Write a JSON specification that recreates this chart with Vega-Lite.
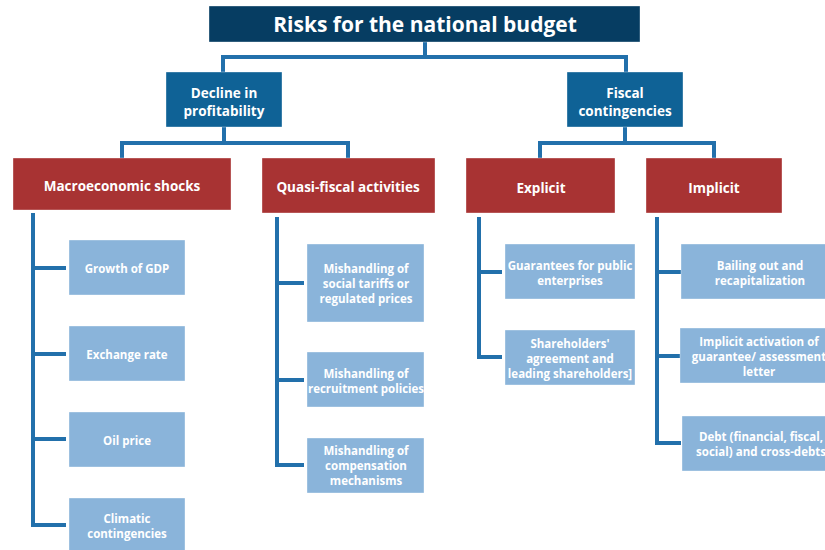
{
  "$schema": "https://vega.github.io/schema/vega-lite/v6.json",
  "width": 825,
  "height": 550,
  "padding": 0,
  "autosize": {"type": "none"},
  "background": "white",
  "config": {"view": {"stroke": null}},
  "datasets": {
    "boxes": [
      {"id": "title", "level": "top", "x1": 209, "x2": 640, "y1": 6, "y2": 42},
      {"id": "decline", "level": "l2", "x1": 166, "x2": 282, "y1": 72, "y2": 127},
      {"id": "fiscal", "level": "l2", "x1": 567, "x2": 683, "y1": 72, "y2": 127},
      {"id": "macro", "level": "l3", "x1": 13, "x2": 231, "y1": 158, "y2": 210},
      {"id": "quasi", "level": "l3", "x1": 262, "x2": 435, "y1": 158, "y2": 213},
      {"id": "explicit", "level": "l3", "x1": 466, "x2": 615, "y1": 158, "y2": 213},
      {"id": "implicit", "level": "l3", "x1": 646, "x2": 782, "y1": 158, "y2": 213},
      {"id": "gdp", "level": "leaf", "x1": 69, "x2": 185, "y1": 240, "y2": 295},
      {"id": "fx", "level": "leaf", "x1": 69, "x2": 185, "y1": 326, "y2": 381},
      {"id": "oil", "level": "leaf", "x1": 69, "x2": 185, "y1": 412, "y2": 467},
      {"id": "climatic", "level": "leaf", "x1": 69, "x2": 185, "y1": 498, "y2": 556},
      {"id": "tariffs", "level": "leaf", "x1": 307, "x2": 424, "y1": 244, "y2": 322},
      {"id": "recruit", "level": "leaf", "x1": 307, "x2": 424, "y1": 352, "y2": 407},
      {"id": "comp", "level": "leaf", "x1": 307, "x2": 424, "y1": 438, "y2": 493},
      {"id": "guar", "level": "leaf", "x1": 505, "x2": 635, "y1": 244, "y2": 299},
      {"id": "share", "level": "leaf", "x1": 505, "x2": 635, "y1": 330, "y2": 385},
      {"id": "bail", "level": "leaf", "x1": 681, "x2": 840, "y1": 244, "y2": 299},
      {"id": "activ", "level": "leaf", "x1": 680, "x2": 840, "y1": 328, "y2": 383},
      {"id": "debt", "level": "leaf", "x1": 682, "x2": 840, "y1": 416, "y2": 471}
    ],
    "labels": [
      {"level": "top", "x": 425, "y": 24, "text": "Risks for the national budget"},
      {"level": "l2", "x": 224, "y": 92, "text": "Decline in\nprofitability"},
      {"level": "l2", "x": 625, "y": 92, "text": "Fiscal\ncontingencies"},
      {"level": "l3", "x": 122, "y": 185, "text": "Macroeconomic shocks"},
      {"level": "l3", "x": 348, "y": 186, "text": "Quasi-fiscal activities"},
      {"level": "l3", "x": 541, "y": 187, "text": "Explicit"},
      {"level": "l3", "x": 714, "y": 187, "text": "Implicit"},
      {"level": "leaf", "x": 127, "y": 268, "text": "Growth of GDP"},
      {"level": "leaf", "x": 127, "y": 354, "text": "Exchange rate"},
      {"level": "leaf", "x": 127, "y": 440, "text": "Oil price"},
      {"level": "leaf", "x": 127, "y": 518, "text": "Climatic\ncontingencies"},
      {"level": "leaf", "x": 366, "y": 268, "text": "Mishandling of\nsocial tariffs or\nregulated prices"},
      {"level": "leaf", "x": 366, "y": 373, "text": "Mishandling of\nrecruitment policies"},
      {"level": "leaf", "x": 366, "y": 450, "text": "Mishandling of\ncompensation\nmechanisms"},
      {"level": "leaf", "x": 570, "y": 265, "text": "Guarantees for public\nenterprises"},
      {"level": "leaf", "x": 570, "y": 343, "text": "Shareholders'\nagreement and\nleading shareholders]"},
      {"level": "leaf", "x": 760, "y": 265, "text": "Bailing out and\nrecapitalization"},
      {"level": "leaf", "x": 759, "y": 341, "text": "Implicit activation of\nguarantee/ assessment\nletter"},
      {"level": "leaf", "x": 761, "y": 436, "text": "Debt (financial, fiscal,\nsocial) and cross-debts"}
    ],
    "links": [
      {"x1": 425, "y1": 42, "x2": 425, "y2": 57},
      {"x1": 223, "y1": 57, "x2": 626, "y2": 57},
      {"x1": 223, "y1": 57, "x2": 223, "y2": 72},
      {"x1": 626, "y1": 57, "x2": 626, "y2": 72},
      {"x1": 224, "y1": 127, "x2": 224, "y2": 143},
      {"x1": 122, "y1": 143, "x2": 348, "y2": 143},
      {"x1": 122, "y1": 143, "x2": 122, "y2": 158},
      {"x1": 348, "y1": 143, "x2": 348, "y2": 158},
      {"x1": 625, "y1": 127, "x2": 625, "y2": 143},
      {"x1": 540, "y1": 143, "x2": 714, "y2": 143},
      {"x1": 540, "y1": 143, "x2": 540, "y2": 158},
      {"x1": 714, "y1": 143, "x2": 714, "y2": 158},
      {"x1": 33, "y1": 215, "x2": 33, "y2": 525},
      {"x1": 33, "y1": 268, "x2": 64, "y2": 268},
      {"x1": 33, "y1": 354, "x2": 64, "y2": 354},
      {"x1": 33, "y1": 439, "x2": 64, "y2": 439},
      {"x1": 33, "y1": 525, "x2": 64, "y2": 525},
      {"x1": 277, "y1": 219, "x2": 277, "y2": 465},
      {"x1": 277, "y1": 283, "x2": 302, "y2": 283},
      {"x1": 277, "y1": 380, "x2": 302, "y2": 380},
      {"x1": 277, "y1": 465, "x2": 302, "y2": 465},
      {"x1": 479, "y1": 219, "x2": 479, "y2": 357},
      {"x1": 479, "y1": 272, "x2": 500, "y2": 272},
      {"x1": 479, "y1": 357, "x2": 500, "y2": 357},
      {"x1": 657, "y1": 219, "x2": 657, "y2": 443},
      {"x1": 657, "y1": 272, "x2": 679, "y2": 272},
      {"x1": 657, "y1": 356, "x2": 679, "y2": 356},
      {"x1": 657, "y1": 443, "x2": 679, "y2": 443}
    ]
  },
  "layer": [
    {
      "data": {"name": "links"},
      "mark": {"type": "rule", "color": "#2270ab", "strokeWidth": 4, "strokeCap": "square"},
      "encoding": {
        "x": {"field": "x1", "type": "quantitative", "scale": {"domain": [0, 825]}, "axis": null},
        "x2": {"field": "x2"},
        "y": {"field": "y1", "type": "quantitative", "scale": {"domain": [0, 550], "reverse": true}, "axis": null},
        "y2": {"field": "y2"}
      }
    },
    {
      "data": {"name": "boxes"},
      "mark": {"type": "rect", "clip": true, "stroke": "#ffffff", "strokeOpacity": 0.35, "strokeWidth": 1},
      "encoding": {
        "x": {"field": "x1", "type": "quantitative", "scale": {"domain": [0, 825]}, "axis": null},
        "x2": {"field": "x2"},
        "y": {"field": "y1", "type": "quantitative", "scale": {"domain": [0, 550], "reverse": true}, "axis": null},
        "y2": {"field": "y2"},
        "color": {"field": "level", "type": "nominal", "legend": null,
          "scale": {"domain": ["top", "l2", "l3", "leaf"], "range": ["#063d62", "#0f6296", "#a83333", "#8ab4da"]}}
      }
    },
    {
      "data": {"name": "labels"},
      "transform": [{"filter": "datum.level == 'top'"}],
      "mark": {"type": "text", "color": "white", "font": "Open Sans", "fontWeight": "bold", "fontSize": 21, "align": "center", "baseline": "middle", "dy": 2},
      "encoding": {
        "x": {"field": "x", "type": "quantitative", "scale": {"domain": [0, 825]}, "axis": null},
        "y": {"field": "y", "type": "quantitative", "scale": {"domain": [0, 550], "reverse": true}, "axis": null},
        "text": {"field": "text"}
      }
    },
    {
      "data": {"name": "labels"},
      "transform": [{"filter": "datum.level == 'l2' || datum.level == 'l3'"}],
      "mark": {"type": "text", "color": "white", "font": "Open Sans", "fontWeight": "bold", "fontSize": 13.5, "align": "center", "baseline": "middle", "lineBreak": "\n", "lineHeight": 18, "dy": 1.5},
      "encoding": {
        "x": {"field": "x", "type": "quantitative", "scale": {"domain": [0, 825]}, "axis": null},
        "y": {"field": "y", "type": "quantitative", "scale": {"domain": [0, 550], "reverse": true}, "axis": null},
        "text": {"field": "text"}
      }
    },
    {
      "data": {"name": "labels"},
      "transform": [{"filter": "datum.level == 'leaf'"}],
      "mark": {"type": "text", "clip": true, "color": "white", "font": "Open Sans", "fontWeight": "bold", "fontSize": 11.5, "align": "center", "baseline": "middle", "lineBreak": "\n", "lineHeight": 15, "dy": 1.5},
      "encoding": {
        "x": {"field": "x", "type": "quantitative", "scale": {"domain": [0, 825]}, "axis": null},
        "y": {"field": "y", "type": "quantitative", "scale": {"domain": [0, 550], "reverse": true}, "axis": null},
        "text": {"field": "text"}
      }
    }
  ]
}
